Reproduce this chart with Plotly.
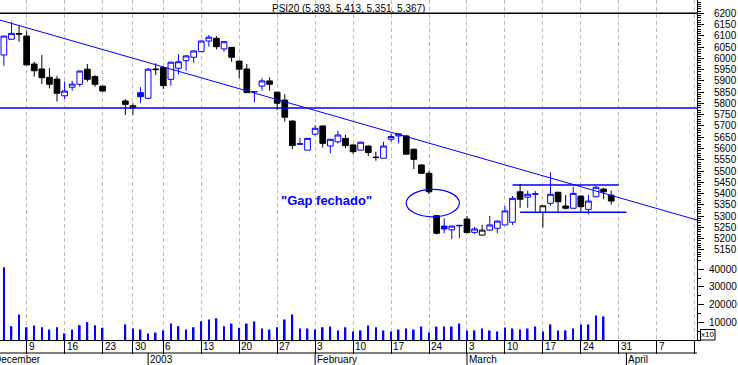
import pandas as pd
import plotly.graph_objects as go

# ---------------- data ----------------
dates = [
    "2002-12-04", "2002-12-05", "2002-12-06", "2002-12-09", "2002-12-10", "2002-12-11", "2002-12-12",
    "2002-12-13", "2002-12-16", "2002-12-17", "2002-12-18", "2002-12-19", "2002-12-20", "2002-12-23",
    "2002-12-27", "2002-12-30", "2002-12-31",
    "2003-01-02", "2003-01-03", "2003-01-06", "2003-01-07", "2003-01-08", "2003-01-09", "2003-01-10",
    "2003-01-13", "2003-01-14", "2003-01-15", "2003-01-16", "2003-01-17", "2003-01-20", "2003-01-21",
    "2003-01-22", "2003-01-23", "2003-01-24", "2003-01-27", "2003-01-28", "2003-01-29", "2003-01-30",
    "2003-01-31",
    "2003-02-03", "2003-02-04", "2003-02-05", "2003-02-06", "2003-02-07", "2003-02-10", "2003-02-11",
    "2003-02-12", "2003-02-13", "2003-02-14", "2003-02-17", "2003-02-18", "2003-02-19", "2003-02-20",
    "2003-02-21", "2003-02-24", "2003-02-25", "2003-02-26", "2003-02-27", "2003-02-28",
    "2003-03-03", "2003-03-04", "2003-03-05", "2003-03-06", "2003-03-07", "2003-03-10", "2003-03-11",
    "2003-03-12", "2003-03-13", "2003-03-14", "2003-03-17", "2003-03-18", "2003-03-19", "2003-03-20",
    "2003-03-21", "2003-03-24", "2003-03-25", "2003-03-26", "2003-03-27", "2003-03-28",
]
opens = [6015, 6085, 6110, 6099, 5975, 5953, 5916, 5908, 5834, 5872, 5885, 5952, 5919, 5877, 5811, 5781, 5848,
         5823, 5953, 5959, 5907, 5956, 5990, 6005, 6030, 6077, 6089, 6042, 6049, 5988, 5953, 5851, 5877, 5900,
         5850, 5815, 5722, 5619, 5593,
         5664, 5700, 5611, 5630, 5645, 5616, 5593, 5611, 5562, 5557, 5641, 5656, 5656, 5597, 5527, 5490, 5302,
         5256, 5239, 5257,
         5287, 5228, 5216, 5238, 5246, 5261, 5273, 5408, 5384, 5397, 5317, 5357, 5406, 5345, 5335, 5389, 5330,
         5386, 5420, 5393]
highs = [6100, 6163, 6148, 6121, 5985, 6015, 5956, 5922, 5897, 5900, 5946, 5975, 5926, 5878, 5820, 5801, 5872,
         5957, 5978, 5960, 5984, 6018, 6015, 6035, 6080, 6104, 6099, 6075, 6050, 5990, 5975, 5854, 5912, 5916,
         5852, 5841, 5724, 5648, 5646,
         5704, 5702, 5642, 5678, 5660, 5618, 5630, 5613, 5586, 5630, 5665, 5667, 5660, 5600, 5530, 5500, 5305,
         5290, 5258, 5260,
         5301, 5253, 5261, 5301, 5280, 5345, 5389, 5443, 5413, 5412, 5348, 5495, 5408, 5394, 5431, 5392, 5394,
         5434, 5426, 5413]
lows = [5967, 6083, 6074, 5969, 5919, 5886, 5867, 5808, 5820, 5857, 5874, 5897, 5874, 5853, 5749, 5749, 5801,
        5818, 5926, 5864, 5879, 5929, 5945, 5981, 6028, 6052, 6040, 6030, 5985, 5912, 5846, 5805, 5857, 5857,
        5771, 5719, 5597, 5618, 5592,
        5657, 5604, 5579, 5623, 5601, 5576, 5591, 5567, 5546, 5556, 5630, 5623, 5573, 5509, 5488, 5397, 5219,
        5224, 5199, 5202,
        5224, 5221, 5214, 5235, 5224, 5259, 5261, 5337, 5337, 5320, 5249, 5346, 5320, 5330, 5334, 5320, 5308,
        5384, 5375, 5351]
closes = [6099, 6111, 6108, 5971, 5945, 5914, 5885, 5845, 5855, 5886, 5944, 5907, 5885, 5855, 5796, 5790, 5830,
          5952, 5950, 5879, 5983, 5985, 6011, 6033, 6077, 6094, 6052, 6074, 6005, 5952, 5848, 5853, 5900, 5885,
          5801, 5739, 5613, 5621, 5645,
          5690, 5623, 5641, 5660, 5613, 5586, 5628, 5582, 5560, 5611, 5653, 5665, 5575, 5552, 5490, 5408, 5224,
          5243, 5256, 5259,
          5227, 5243, 5238, 5261, 5278, 5323, 5379, 5375, 5397, 5399, 5346, 5397, 5364, 5335, 5401, 5342, 5367,
          5428, 5408, 5367]
volumes = [41100, 7800, 14400, 7200, 8200, 7200, 5900, 7200, 3700, 5900, 8400, 10100, 8400, 6900, 8800, 6500, 5900,
           3700, 4200, 5400, 9300, 7800, 5900, 7200, 10600, 11600, 12300, 7800, 9300, 6900, 9300, 10500, 6500, 5900,
           7200, 11600, 14400, 6500, 6500,
           5900, 7200, 7600, 5400, 7200, 4800, 5400, 8200, 7200, 5400, 4800, 5900, 6500, 5900, 7600, 4200, 7600,
           7600, 7600, 9300,
           5400, 5400, 6500, 5400, 4800, 7000, 6500, 5900, 6500, 7600, 4800, 8800, 5400, 5400, 6500, 8800, 8800,
           13800, 13300, None]

week_ticks = ["2002-12-09", "2002-12-16", "2002-12-23", "2002-12-30", "2003-01-06", "2003-01-13", "2003-01-20",
              "2003-01-27", "2003-02-03", "2003-02-10", "2003-02-17", "2003-02-24", "2003-03-03", "2003-03-10",
              "2003-03-17", "2003-03-24", "2003-03-31", "2003-04-07", "2003-04-14"]
week_labels = ["9", "16", "23", "30", "6", "13", "20", "27", "3", "10", "17", "24", "3", "10", "17", "24", "31",
               "7", ""]
month_ticks = ["2002-12-02", "2003-01-02", "2003-02-03", "2003-03-03", "2003-04-01"]
month_labels = ["December", "2003", "February", "March", "April"]

price_ticks = list(range(5150, 6201, 50))
volume_ticks = [10000, 20000, 30000, 40000]

# analyst drawings
trend_dates = ["2002-12-04", "2003-03-28"]
trend_values = [6165, 5392]
support_level = 5780
top_level = 6200
resist_dates = ["2003-03-11", "2003-03-31"]
resist_value = 5438
floor_dates = ["2003-03-12", "2003-04-01"]
floor_value = 5317
gap_dates = ["2003-02-19", "2003-02-28"]
gap_values = [5297, 5419]

# ---------------- trading-day axis ----------------
holidays = ["2002-12-25", "2003-01-01"]
calendar = [d.strftime("%Y-%m-%d") for d in pd.bdate_range("2002-12-02", "2003-04-25")]
calendar = [d for d in calendar if d not in holidays]
slot = {d: i for i, d in enumerate(calendar)}

x_lo, x_hi = slot["2002-12-04"] - 0.51, slot["2002-12-04"] + 91.3

BLUE = "#0000ff"
BLACK = "#000000"
FONT = "Liberation Sans, Arial, sans-serif"

fig = go.Figure()

# candles: blue when close >= previous close, black otherwise
groups = {BLUE: [], BLACK: []}
prev = None
for i, c in enumerate(closes):
    groups[BLUE if (prev is None or c >= prev) else BLACK].append(i)
    prev = c
for col, idx in groups.items():
    fig.add_trace(go.Candlestick(
        x=[slot[dates[i]] for i in idx],
        open=[opens[i] for i in idx], high=[highs[i] for i in idx],
        low=[lows[i] for i in idx], close=[closes[i] for i in idx],
        increasing=dict(line=dict(color=col, width=1), fillcolor="#ffffff"),
        decreasing=dict(line=dict(color=col, width=1), fillcolor=col),
        whiskerwidth=0, showlegend=False, hoverinfo="skip", xaxis="x", yaxis="y"))

# trend line extended across the plot
tx = [slot[d] for d in trend_dates]
k = (trend_values[1] - trend_values[0]) / (tx[1] - tx[0])
fig.add_trace(go.Scatter(x=[x_lo, x_hi],
                         y=[trend_values[0] + k * (x_lo - tx[0]), trend_values[0] + k * (x_hi - tx[0])],
                         mode="lines", line=dict(color=BLUE, width=1), showlegend=False, hoverinfo="skip"))
fig.add_trace(go.Scatter(x=[x_lo, x_hi], y=[support_level] * 2, mode="lines",
                         line=dict(color=BLUE, width=1.6), showlegend=False, hoverinfo="skip"))
fig.add_trace(go.Scatter(x=[x_lo, x_hi], y=[top_level] * 2, mode="lines",
                         line=dict(color=BLACK, width=1.4), showlegend=False, hoverinfo="skip"))
fig.add_trace(go.Scatter(x=[slot[d] for d in resist_dates], y=[resist_value] * 2, mode="lines",
                         line=dict(color=BLUE, width=1.4), showlegend=False, hoverinfo="skip"))
fig.add_trace(go.Scatter(x=[slot[d] for d in floor_dates], y=[floor_value] * 2, mode="lines",
                         line=dict(color=BLUE, width=1.4), showlegend=False, hoverinfo="skip"))

# volume
fig.add_trace(go.Bar(x=[slot[d] for d in dates], y=volumes, width=0.22,
                     marker=dict(color=BLUE, line=dict(width=0)),
                     showlegend=False, hoverinfo="skip", xaxis="x2", yaxis="y2"))

PLOT_H = 340.0
split = (PLOT_H - 258) / PLOT_H
week_slots = [slot[d] for d in week_ticks]

grid = dict(showgrid=True, gridcolor="#c0c0c0", griddash="4px,3px", gridwidth=1,
            tickmode="array", tickvals=week_slots, showticklabels=False, zeroline=False,
            range=[x_lo, x_hi], fixedrange=True)
tickfont = dict(family=FONT, size=10, color=BLACK)

fig.update_layout(
    width=738, height=365,
    margin=dict(l=0, r=41, t=0, b=25),
    paper_bgcolor="#ffffff", plot_bgcolor="#ffffff",
    showlegend=False, boxgap=0.25, boxgroupgap=0,
    xaxis=dict(domain=[0, 1], anchor="y", ticks="", showline=False, rangeslider=dict(visible=False), **grid),
    xaxis2=dict(domain=[0, 1], anchor="y2", matches="x", ticks="outside", ticklen=13, tickcolor=BLACK,
                tickwidth=1, showline=True, linecolor=BLACK, linewidth=1, **grid),
    yaxis=dict(domain=[split, 1], anchor="x", side="right", range=[5114.3, 6259],
               tickmode="array", tickvals=price_ticks, ticktext=[str(v) for v in price_ticks],
               ticks="outside", ticklen=6, tickcolor=BLACK, showline=True, linecolor=BLACK, linewidth=1,
               minor=dict(ticks="outside", ticklen=3, tickcolor=BLACK, tickmode="linear", tick0=0, dtick=10,
                          showgrid=False),
               showgrid=False, zeroline=False, tickfont=tickfont, ticklabelstandoff=8, fixedrange=True),
    yaxis2=dict(domain=[0, split], anchor="x2", side="right", range=[0, 46330],
                tickmode="array", tickvals=volume_ticks, ticktext=[str(v) for v in volume_ticks],
                ticks="outside", ticklen=6, tickcolor=BLACK, showline=True, linecolor=BLACK, linewidth=1,
                minor=dict(ticks="outside", ticklen=3, tickcolor=BLACK, tickmode="linear", tick0=0, dtick=5000,
                           showgrid=False),
                showgrid=False, zeroline=False, tickfont=tickfont, ticklabelstandoff=3, fixedrange=True),
)

row1_y = -13 / PLOT_H
row2_y = -25 / PLOT_H
shapes = [
    dict(type="line", xref="paper", yref="paper", x0=0, x1=1, y0=row1_y, y1=row1_y,
         line=dict(color=BLACK, width=1)),
    dict(type="circle", xref="x", yref="y", x0=slot[gap_dates[0]], x1=slot[gap_dates[1]],
         y0=gap_values[0], y1=gap_values[1], line=dict(color=BLUE, width=1.2)),
    dict(type="rect", xref="paper", yref="paper", x0=700.5 / 697, x1=715 / 697, y0=0, y1=10.5 / PLOT_H,
         line=dict(color=BLACK, width=1), fillcolor="#ffffff", layer="above"),
]
for d in month_ticks:
    if x_lo <= slot[d] <= x_hi:
        shapes.append(dict(type="line", xref="x", yref="paper", x0=slot[d], x1=slot[d], y0=row1_y, y1=row2_y,
                           line=dict(color=BLACK, width=1)))
fig.update_layout(shapes=shapes)

ann = []
for d, lab in zip(week_ticks, week_labels):
    if lab:
        ann.append(dict(xref="x", yref="paper", x=slot[d], y=-6.5 / PLOT_H, text=lab, showarrow=False,
                        xanchor="left", yanchor="middle", xshift=0, font=tickfont))
for d, lab in zip(month_ticks, month_labels):
    px = (slot[d] - x_lo) / (x_hi - x_lo)
    ann.append(dict(xref="paper", yref="paper", x=px, y=-19.5 / PLOT_H, text=lab, showarrow=False,
                    xanchor="left", yanchor="middle", xshift=(3.5 if d == month_ticks[0] else 0), font=tickfont))
ann.append(dict(xref="paper", yref="paper", x=0.5, y=(PLOT_H - 8) / PLOT_H,
                text="PSI20 (%s, %s, %s, %s)" % (f"{opens[-1]:,}", f"{highs[-1]:,}", f"{lows[-1]:,}",
                                                  f"{closes[-1]:,}"),
                showarrow=False, xanchor="center", yanchor="middle", font=tickfont))
ann.append(dict(xref="paper", yref="paper", x=326 / 697, y=(PLOT_H - 200) / PLOT_H, text="\"Gap fechado\"",
                showarrow=False, xanchor="center", yanchor="middle",
                font=dict(family=FONT, size=13, color=BLUE, weight="bold")))
ann.append(dict(xref="paper", yref="paper", x=707.7 / 697, y=5.2 / PLOT_H, text="x10", showarrow=False,
                xanchor="center", yanchor="middle", font=dict(family=FONT, size=8, color=BLACK)))
fig.update_layout(annotations=ann)

fig.write_html("out.html", config={"displayModeBar": False},
               post_script="document.body.style.margin='0px';document.body.style.padding='0px';")
